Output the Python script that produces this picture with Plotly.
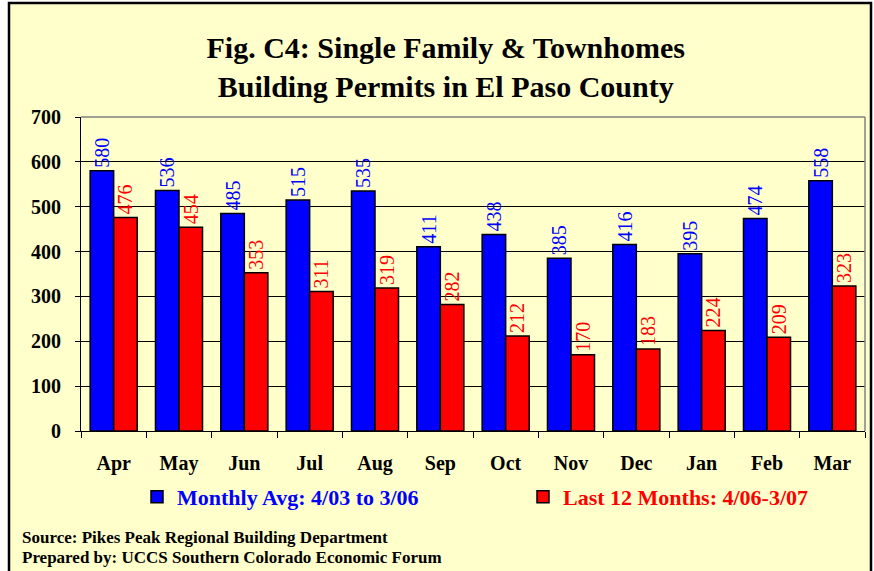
import plotly.graph_objects as go

months = ["Apr", "May", "Jun", "Jul", "Aug", "Sep", "Oct", "Nov", "Dec", "Jan", "Feb", "Mar"]
monthly_avg = [580, 536, 485, 515, 535, 411, 438, 385, 416, 395, 474, 558]
last_12 = [476, 454, 353, 311, 319, 282, 212, 170, 183, 224, 209, 323]
y_ticks = [0, 100, 200, 300, 400, 500, 600, 700]

SERIF = "Liberation Serif, Times New Roman, serif"
BG = "#FFFFCC"

fig = go.Figure()
fig.add_trace(go.Bar(
    x=months, y=monthly_avg,
    name="<span style='color:#0000FF'><b>Monthly Avg: 4/03 to 3/06</b></span>",
    marker=dict(color="#0000FF", line=dict(color="black", width=1.5)),
    texttemplate="%{y}", textposition="outside", textangle=-90,
    constraintext="none",
    textfont=dict(family=SERIF, size=20, color="#0000FF"),
    cliponaxis=False, legend="legend", showlegend=True,
))
fig.add_trace(go.Bar(
    x=months, y=last_12,
    name="<span style='color:#FF0000'><b>Last 12 Months: 4/06-3/07</b></span>",
    marker=dict(color="#FF0000", line=dict(color="black", width=1.5)),
    texttemplate="%{y}", textposition="outside", textangle=-90,
    constraintext="none",
    textfont=dict(family=SERIF, size=20, color="#FF0000"),
    cliponaxis=False, legend="legend2", showlegend=True,
))

legend_common = dict(
    orientation="h", yanchor="middle", y=(431 - 497) / 314,
    font=dict(family=SERIF, size=22), bgcolor="rgba(0,0,0,0)",
    itemclick=False, itemdoubleclick=False, visible=True,
)

fig.update_layout(
    width=874, height=571,
    margin=dict(l=81, r=9, t=117, b=140),
    paper_bgcolor="white",
    plot_bgcolor="rgba(0,0,0,0)",
    showlegend=True,
    barmode="group",
    bargap=0.28,
    bargroupgap=0,
    font=dict(family=SERIF, color="black"),
    title=dict(
        text="Fig. C4: Single Family & Townhomes<br>Building Permits in El Paso County",
        font=dict(family=SERIF, size=30, color="black", weight="bold"),
        x=0.51, xanchor="center", xref="container",
        y=1 - 58 / 571, yanchor="middle", yref="container",
    ),
    xaxis=dict(
        type="category",
        showline=True, linecolor="black", linewidth=1,
        ticks="outside", ticklen=6, tickcolor="black", tickson="boundaries",
        tickfont=dict(family=SERIF, size=20, color="black", weight="bold"),
        ticklabelstandoff=14,
        showgrid=False,
    ),
    yaxis=dict(
        range=[0, 700], tickvals=y_ticks,
        showline=True, linecolor="black", linewidth=1,
        ticks="outside", ticklen=5, tickcolor="black",
        tickfont=dict(family=SERIF, size=20, color="black", weight="bold"),
        ticklabelstandoff=10,
        showgrid=True, gridcolor="black", gridwidth=1,
        zeroline=False,
    ),
    legend=dict(x=(137 - 81) / 784, xanchor="left", **legend_common),
    legend2=dict(x=(523 - 81) / 784, xanchor="left", **legend_common),
    shapes=[
        dict(type="rect", xref="paper", yref="paper",
             x0=(9 - 81) / 784, x1=(871 - 81) / 784,
             y0=(431 - 580) / 314, y1=(431 - 3) / 314,
             fillcolor=BG, line=dict(color="black", width=2.5), layer="below"),
        dict(type="line", xref="paper", yref="paper", x0=0, x1=1, y0=1, y1=1,
             line=dict(color="#808080", width=1.5), layer="above"),
        dict(type="line", xref="paper", yref="paper", x0=1, x1=1, y0=0, y1=1,
             line=dict(color="#808080", width=1.5), layer="above"),
    ],
    annotations=[
        dict(text="<b>Source: Pikes Peak Regional Building Department</b>",
             xref="paper", yref="paper", x=(20 - 81) / 784, y=(431 - 537) / 314,
             xanchor="left", yanchor="middle", showarrow=False,
             font=dict(family=SERIF, size=17, color="black")),
        dict(text="<b>Prepared by: UCCS Southern Colorado Economic Forum</b>",
             xref="paper", yref="paper", x=(20 - 81) / 784, y=(431 - 557) / 314,
             xanchor="left", yanchor="middle", showarrow=False,
             font=dict(family=SERIF, size=17, color="black")),
    ],
)

fig.write_html("out.html", config={"displayModeBar": False},
               post_script="document.body.style.margin='0';")
